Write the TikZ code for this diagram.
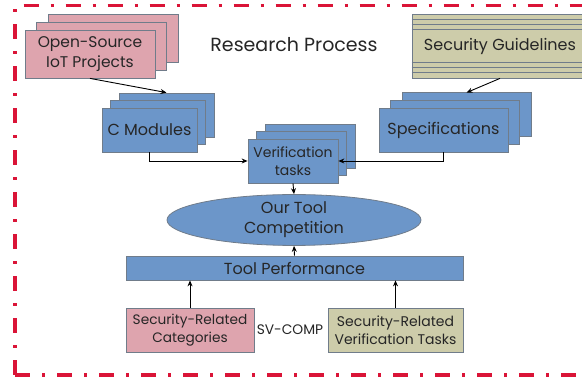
\documentclass[tikz,border=0pt]{standalone}
\usepackage{fontspec}
\setmainfont{Poppins}
\usetikzlibrary{arrows.meta,positioning,shapes.geometric,shadows}
\definecolor{BoxBlue}{RGB}{108,150,201}
\definecolor{BoxPink}{RGB}{222,164,174}
\definecolor{BoxKhaki}{RGB}{205,204,170}
\definecolor{EdgeGray}{RGB}{112,124,138}
\definecolor{FrameRed}{RGB}{218,20,55}
\tikzset{
	box/.style={draw=EdgeGray, line width=0.8pt, inner sep=1pt, align=center, text=black!85},
	bluebox/.style={box, fill=BoxBlue},
	pinkbox/.style={box, fill=BoxPink},
	khakibox/.style={box, fill=BoxKhaki},
	stackwide/.style={
		copy shadow={shadow xshift=23pt, shadow yshift=16pt, fill=#1, draw=EdgeGray, line width=0.8pt},
		copy shadow={shadow xshift=11.5pt, shadow yshift=8pt, fill=#1, draw=EdgeGray, line width=0.8pt}},
	stacknarrow/.style={
		copy shadow={shadow xshift=17pt, shadow yshift=15pt, fill=#1, draw=EdgeGray, line width=0.8pt},
		copy shadow={shadow xshift=8.5pt, shadow yshift=7.5pt, fill=#1, draw=EdgeGray, line width=0.8pt}},
	arrow/.style={-{Stealth[length=6pt,width=5pt]}, line width=0.9pt, black}
}

\begin{document}
\begin{tikzpicture}[x=1pt, y=-1pt]
	\useasboundingbox[fill=white] (0,0) rectangle (582,379);
	% frame
	\draw[FrameRed, line width=3.5pt, dash pattern=on 15pt off 12pt on 3pt off 12pt] (15,375) -- (15,5.5) -- (600,5.5);
	\draw[FrameRed, line width=3.5pt, dash pattern=on 15pt off 12pt on 3pt off 12pt] (15,375) -- (600,375);
	\node[font=\fontsize{19}{21}\selectfont, text=black!85] (title) at (294,45) {Research Process};
	% inputs
	\node[pinkbox, stackwide=BoxPink, minimum width=130pt, minimum height=48pt, font=\fontsize{15.5}{20}\selectfont] (oss) at (90,54) {Open-Source\\IoT Projects};
	\node[khakibox, minimum width=176pt, minimum height=64pt, font=\fontsize{16}{18}\selectfont] (guide) at (500,46) {Security Guidelines};
	\foreach \d in {6,11,16} {
		\draw[EdgeGray, line width=0.7pt] ([yshift=-\d pt]guide.north west) -- ([yshift=-\d pt]guide.north east);
		\draw[EdgeGray, line width=0.7pt] ([yshift=\d pt]guide.south west) -- ([yshift=\d pt]guide.south east);
	}
	\node[bluebox, stacknarrow=BoxBlue, minimum width=95pt, minimum height=44pt, font=\fontsize{16}{18}\selectfont] (cmod) at (149.5,130) {C Modules};
	\node[bluebox, stackwide=BoxBlue, minimum width=129pt, minimum height=44pt, font=\fontsize{16}{18}\selectfont] (spec) at (443.5,130) {Specifications};
	\node[bluebox, stacknarrow=BoxBlue, minimum width=90pt, minimum height=44pt, font=\fontsize{14}{18}\selectfont] (vtask) at (293,161) {Verification\\tasks};
	% tool
	\node[bluebox, ellipse, inner sep=0pt, minimum width=254pt, minimum height=43pt, font=\fontsize{16}{20}\selectfont] (tool) at (294,220) {Our Tool\\Competition};
	\node[bluebox, minimum width=337pt, minimum height=24pt, font=\fontsize{16}{18}\selectfont] (perf) at (294.5,268) {Tool Performance};
	\node[pinkbox, minimum width=128pt, minimum height=44pt, font=\fontsize{13.7}{18}\selectfont] (cat) at (190,330) {Security-Related\\Categories};
	\node[khakibox, minimum width=135pt, minimum height=44pt, font=\fontsize{14}{18}\selectfont] (svtask) at (395.5,330) {Security-Related\\Verification Tasks};
	\node[font=\fontsize{13.8}{16}\selectfont, text=black!85] (svcomp) at (290,330) {SV-COMP};
	% connectors
	\draw[arrow] (oss.south) -- ([xshift=17pt, yshift=15pt]cmod.north);
	\draw[arrow] (guide.south) -- ([xshift=23pt, yshift=15pt]spec.north);
	\draw[arrow] (cmod.south) |- (vtask.west);
	\draw[arrow] (spec.south) |- (vtask.east);
	\draw[arrow] (vtask.south) -- (tool.north);
	\draw[arrow] (perf.north) -- (tool.south);
	\draw[arrow] (cat.north) -- (cat.north |- perf.south);
	\draw[arrow] (svtask.north) -- (svtask.north |- perf.south);
\end{tikzpicture}
\end{document}
